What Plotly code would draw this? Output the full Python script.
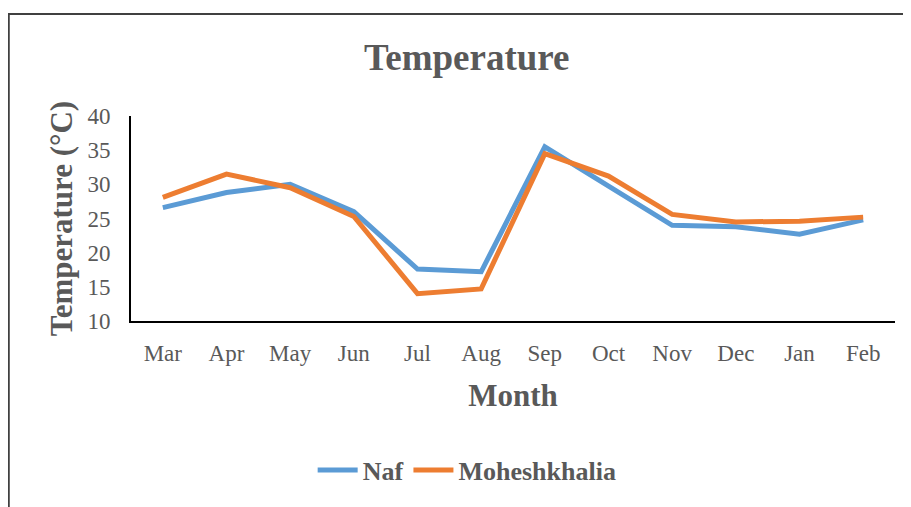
import plotly.graph_objects as go

months = ["Mar", "Apr", "May", "Jun", "Jul", "Aug", "Sep", "Oct", "Nov", "Dec", "Jan", "Feb"]
naf = [26.6, 28.8, 30.0, 26.0, 17.6, 17.2, 35.5, 29.7, 24.0, 23.8, 22.7, 24.8]
moheshkhalia = [28.1, 31.5, 29.5, 25.3, 14.0, 14.7, 34.5, 31.2, 25.6, 24.5, 24.6, 25.2]

serif = "Liberation Serif, Times New Roman, serif"
grey = "#595959"

fig = go.Figure()
fig.add_trace(go.Scatter(x=months, y=naf, name="Naf", mode="lines",
                         line=dict(color="#5B9BD5", width=5)))
fig.add_trace(go.Scatter(x=months, y=moheshkhalia, name="Moheshkhalia", mode="lines",
                         line=dict(color="#ED7D31", width=5)))

# page body has an 8px margin, so the figure is a bit smaller than the window
fig.update_layout(
    width=903, height=499,
    margin=dict(l=123, r=16, t=108, b=186),
    paper_bgcolor="white", plot_bgcolor="white",
    font=dict(family=serif, color=grey),
    title=dict(text="<b>Temperature</b>", x=0.508, y=0.902, xanchor="center", yanchor="middle",
               font=dict(size=37, color=grey, family=serif)),
    legend=dict(orientation="h", x=0.44, xanchor="center", y=-0.727, yanchor="middle",
                font=dict(size=26, color=grey, family=serif, weight="bold"), itemwidth=40),
    showlegend=True,
)
fig.update_xaxes(
    type="category", range=[-0.5, 11.5], showline=True, linecolor="black", linewidth=2,
    showgrid=False, ticks="outside", ticklen=10, tickcolor="white", tickfont=dict(size=23, color=grey),
    title=dict(text="<b>Month</b>", font=dict(size=31, color=grey), standoff=20),
)
fig.update_yaxes(
    range=[10, 40], tickvals=[10, 15, 20, 25, 30, 35, 40], showline=True, linecolor="black",
    linewidth=2, showgrid=False, zeroline=False, ticks="outside", ticklen=14, tickcolor="white",
    tickfont=dict(size=23, color=grey),
    title=dict(text="<b>Temperature (°C)</b>", font=dict(size=31, color=grey), standoff=6),
)

# frame around the chart
fig.add_shape(type="rect", xref="paper", yref="paper", x0=-0.16, x1=1.2, y0=-1.2, y1=1.498,
              line=dict(color="#404040", width=2), fillcolor="rgba(0,0,0,0)", layer="below")

fig.write_html("out.html")
